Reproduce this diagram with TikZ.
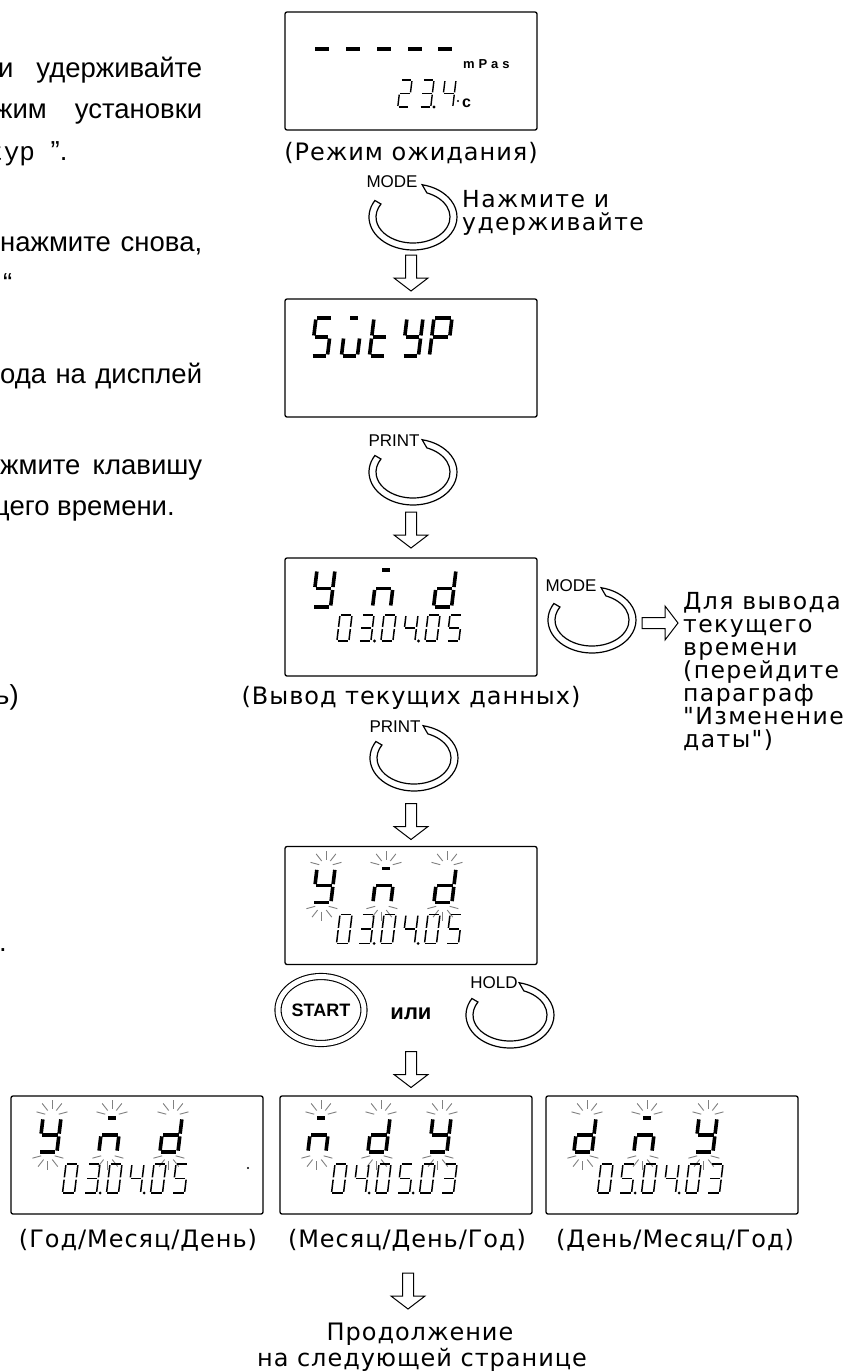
\documentclass[tikz,border=0pt]{standalone}
\usepackage{fontspec}
\setmainfont{Liberation Sans}
\newfontfamily\capfont{DejaVu Sans}
\newfontfamily\monofont{Liberation Mono}
\usetikzlibrary{calc,shapes.geometric}
\tikzset{
  lcdbox/.style={draw, line width=1.3pt, rounded corners=2pt, minimum width=252pt, minimum height=118pt, inner sep=0pt, outer sep=0pt},
  captext/.style={font=\capfont\fontsize{24}{28}\selectfont\addfontfeatures{LetterSpace=4}, anchor=base, inner sep=0pt},
  notetext/.style={font=\capfont\fontsize{23.5}{23}\selectfont\addfontfeatures{LetterSpace=6}, align=left, anchor=north west, inner sep=0pt},
  bodytext/.style={font=\fontsize{27.5}{32}\selectfont, anchor=base west, inner sep=0pt},
  keylab/.style={font=\fontsize{17}{17}\selectfont, inner sep=0pt},
  startbtn/.style={ellipse, draw, double, double distance=5pt, line width=1.1pt, minimum width=86pt, minimum height=67pt, inner sep=0pt, font=\bfseries\fontsize{18}{18}\selectfont},
  hollow/.style={draw, line width=1pt, fill=white},
  band/.style={draw, line width=1.2pt, fill=white},
  ray/.style={draw=black!50, line width=0.9pt},
  dashseg/.style={line width=4.5pt},
  pics/darrow/.style={code={\draw[hollow] (-5.5,0) -- (-5.5,23) -- (-17,23) -- (0,36) -- (17,23) -- (5.5,23) -- (5.5,0) -- cycle;}},
  pics/rarrow/.style={code={\draw[hollow] (0,-5.5) -- (23,-5.5) -- (23,-17) -- (36,0) -- (23,17) -- (23,5.5) -- (0,5.5) -- cycle;}},
  pics/ring/.style={code={\draw[band] (-150:44 and 33) arc[start angle=-150, end angle=-438, x radius=44, y radius=33] -- (-428:37 and 26) arc[start angle=-428, end angle=-150, x radius=37, y radius=26] -- cycle;}},
}
% seven segment parts, unit cell 1 wide and 2 high
\pgfkeys{/lcd/.cd,
  a/.code={\draw[lcdseg] (0.08,0) -- (0.92,0);},
  A/.code={\draw[lcdseg] (0.28,0) -- (0.72,0);},
  b/.code={\draw[lcdseg] (1,0.08) -- (1,0.92);},
  c/.code={\draw[lcdseg] (1,1.08) -- (1,1.92);},
  d/.code={\draw[lcdseg] (0.08,2) -- (0.92,2);},
  e/.code={\draw[lcdseg] (0,1.08) -- (0,1.92);},
  f/.code={\draw[lcdseg] (0,0.08) -- (0,0.92);},
  g/.code={\draw[lcdseg] (0.08,1) -- (0.92,1);},
  p/.code={\fill (1.3,2) circle[radius=1.6pt];},
}
\expandafter\def\csname D0\endcsname{a,b,c,d,e,f}
\expandafter\def\csname D2\endcsname{a,b,g,e,d}
\expandafter\def\csname D3\endcsname{a,b,g,c,d}
\expandafter\def\csname D3p\endcsname{a,b,g,c,d,p}
\expandafter\def\csname D4\endcsname{f,g,b,c}
\expandafter\def\csname D4p\endcsname{f,g,b,c,p}
\expandafter\def\csname D5\endcsname{a,f,g,c,d}
\expandafter\def\csname D5p\endcsname{a,f,g,c,d,p}
\def\segY{b,c,d,f,g}
\def\segM{A,c,e,g}
\def\segD{b,c,d,e,g}
% #1 line width, #2 x, #3 y (top left), #4 width, #5 height, #6 segments
\newcommand{\lcd}[6]{%
  \begin{scope}[shift={({#2},{#3})}, x={(#4pt,0pt)}, y={({-0.06*#5pt},{-0.5*#5pt})}, lcdseg/.style={line width=#1pt}]
    \edef\lcdkeys{\noexpand\pgfkeys{/lcd/.cd,#6}}\lcdkeys
  \end{scope}}
% #1 x, #2 y, #3 pitch, #4 height, #5 digits
\newcommand{\lcdrow}[5]{%
  \foreach \dg [count=\i from 0] in {#5} {\lcd{1.5}{#1+#3*\i}{#2}{12}{#4}{\csname D\dg\endcsname}}}
% blinking marks round a letter: #1 x, #2 y, #3 width, #4 height
\newcommand{\flashes}[4]{%
  \foreach \a in {-165,-128,-90,-52,-15} \draw[ray, shift={({#1+0.5*#3},{#2-2})}] (\a:7) -- (\a:16);
  \foreach \a in {165,128,90,52,15} \draw[ray, shift={({#1+0.5*#3-0.12*#4},{#2+#4+2})}] (\a:7) -- (\a:16);}
\newcommand{\datebox}[5]{%
  \begin{scope}[shift={(#1.north west)}]
    \foreach \lx/\lseg in {32/#2, 92/#3, 153/#4} {\lcd{3.6}{\lx}{22}{18}{34}{\lseg}\flashes{\lx}{22}{18}{34}}
    \lcdrow{55}{68}{22}{29}{#5}
  \end{scope}}
\begin{document}
\begin{tikzpicture}[x=1pt, y=-1pt]
  \path[use as bounding box, fill=white] (0,0) rectangle (846,1371);
  % page text cut at the left margin
  \node[bodytext] (t1) at (-2,77) {\makebox[204pt][s]{и удерживайте}};
  \node[bodytext] (t2) at (-6,118) {\makebox[208pt][s]{жим установки}};
  \node[bodytext] (t3) at (-12,160) {{\monofont\fontsize{26}{30}\selectfont typ }".};
  \node[bodytext] (t4) at (0,251) {\makebox[202pt][s]{нажмите снова,}};
  \node[bodytext] (t5) at (3,292) {“};
  \node[bodytext] (t6) at (0,383) {\makebox[202pt][s]{ода на дисплей}};
  \node[bodytext] (t7) at (0,474) {\makebox[202pt][s]{жмите клавишу}};
  \node[bodytext] (t8) at (-13,515) {щего времени.};
  \node[bodytext] (t9) at (-5,704) {ь)};
  \node[bodytext] (t10) at (-1,951) {.};
  % standby
  \node[lcdbox] (standby) at (411,71) {};
  \begin{scope}[shift={(standby.north west)}]
    \foreach \x in {30,61,92,123,153} \draw[dashseg] (\x,37) -- ++(14,0);
    \node[anchor=base west, inner sep=0pt, font={\bfseries\fontsize{13}{13}\selectfont\addfontfeatures{LetterSpace=30}}] (unit) at (178,56) {mPas};
    \lcd{1.4}{116}{68}{11}{27}{\csname D2\endcsname}
    \lcd{1.4}{138}{68}{11}{27}{\csname D3p\endcsname}
    \lcd{1.4}{160}{68}{11}{27}{\csname D4\endcsname}
    \fill (173,89) circle[radius=1.2pt];
    \node[anchor=base west, inner sep=0pt, font=\bfseries\fontsize{16}{16}\selectfont] (degc) at (177,95) {c};
  \end{scope}
  \node[captext] (cap1) at (411,160) {(Режим ожидания)};
  \coordinate (r1) at (413,217);
  \pic at (r1) {ring};
  \node[keylab] (mode1) at ([shift={(-21,-35)}]r1) {MODE};
  \node[notetext] (hold1) at (462,190) {Нажмите и\\удерживайте};
  % function mode
  \node[lcdbox] (sutyp) at (411,358) {};
  \pic at ($(sutyp.north)+(0,-44)$) {darrow};
  \begin{scope}[shift={(sutyp.north west)}]
    \lcd{3.6}{31}{19}{16}{38}{a,f,g,c,d}
    \lcd{3.6}{61}{19}{16}{38}{A,e,d,c}
    \lcd{3.6}{89}{19}{16}{38}{f,e,g,d}
    \lcd{3.6}{122}{19}{16}{38}{b,c,d,f,g}
    \lcd{3.6}{149}{19}{18}{38}{a,b,f,g,e}
  \end{scope}
  \coordinate (r2) at (413,472);
  \pic at (r2) {ring};
  \node[keylab] (print1) at ([shift={(-19,-31)}]r2) {PRINT};
  % current date
  \node[lcdbox] (current) at (411,617) {};
  \pic at ($(current.north)+(0,-46)$) {darrow};
  \begin{scope}[shift={(current.north west)}]
    \lcd{3.6}{32}{12}{18}{37}{\segY}
    \lcd{3.6}{92}{12}{18}{37}{\segM}
    \lcd{3.6}{153}{12}{18}{37}{\segD}
    \lcdrow{55}{57}{22}{26}{0,3p,0,4p,0,5}
  \end{scope}
  \node[captext] (cap3) at (411,704) {(Вывод текущих данных)};
  \coordinate (r3) at (592,620);
  \pic at (r3) {ring};
  \node[keylab] (mode2) at ([shift={(-21,-34)}]r3) {MODE};
  \pic at ($(r3)+(50,3)$) {rarrow};
  \node[notetext] (time) at (683,592) {Для вывода\\текущего\\времени\\(перейдите\\параграф\\"Изменение\\даты")};
  \coordinate (r4) at (414,758);
  \pic at (r4) {ring};
  \node[keylab] (print2) at ([shift={(-19,-31)}]r4) {PRINT};
  % blinking format
  \node[lcdbox] (flash) at (411,905.5) {};
  \pic at ($(flash.north)+(0,-43)$) {darrow};
  \datebox{flash}{\segY}{\segM}{\segD}{0,3p,0,4p,0,5}
  \node[startbtn] (start) at (321,1010) {START};
  \node[font=\bfseries\fontsize{22}{22}\selectfont, anchor=base, inner sep=0pt] (or) at (411,1019) {или};
  \coordinate (r5) at (510,1015);
  \pic at (r5) {ring};
  \node[keylab] (hold) at ([shift={(-16,-32)}]r5) {HOLD};
  % three formats
  \node[lcdbox] (ymd) at (137,1155) {};
  \node[lcdbox] (mdy) at (406,1155) {};
  \node[lcdbox] (dmy) at (672,1155) {};
  \pic at ($(flash.south)+(0,87)$) {darrow};
  \datebox{ymd}{\segY}{\segM}{\segD}{0,3p,0,4p,0,5}
  \datebox{mdy}{\segM}{\segD}{\segY}{0,4p,0,5p,0,3}
  \datebox{dmy}{\segD}{\segM}{\segY}{0,5p,0,4p,0,3}
  \fill ([shift={(237,72)}]ymd.north west) circle[radius=1.2pt];
  \node[captext] (fymd) at (138,1247) {(Год/Месяц/День)};
  \node[captext] (fmdy) at (407,1247) {(Месяц/День/Год)};
  \node[captext] (fdmy) at (675,1247) {(День/Месяц/Год)};
  \pic at ($(fmdy.base)+(1,26)$) {darrow};
  \node[captext] (next1) at (420,1340) {Продолжение};
  \node[captext] (next2) at (422,1366) {на следующей странице};
\end{tikzpicture}
\end{document}
